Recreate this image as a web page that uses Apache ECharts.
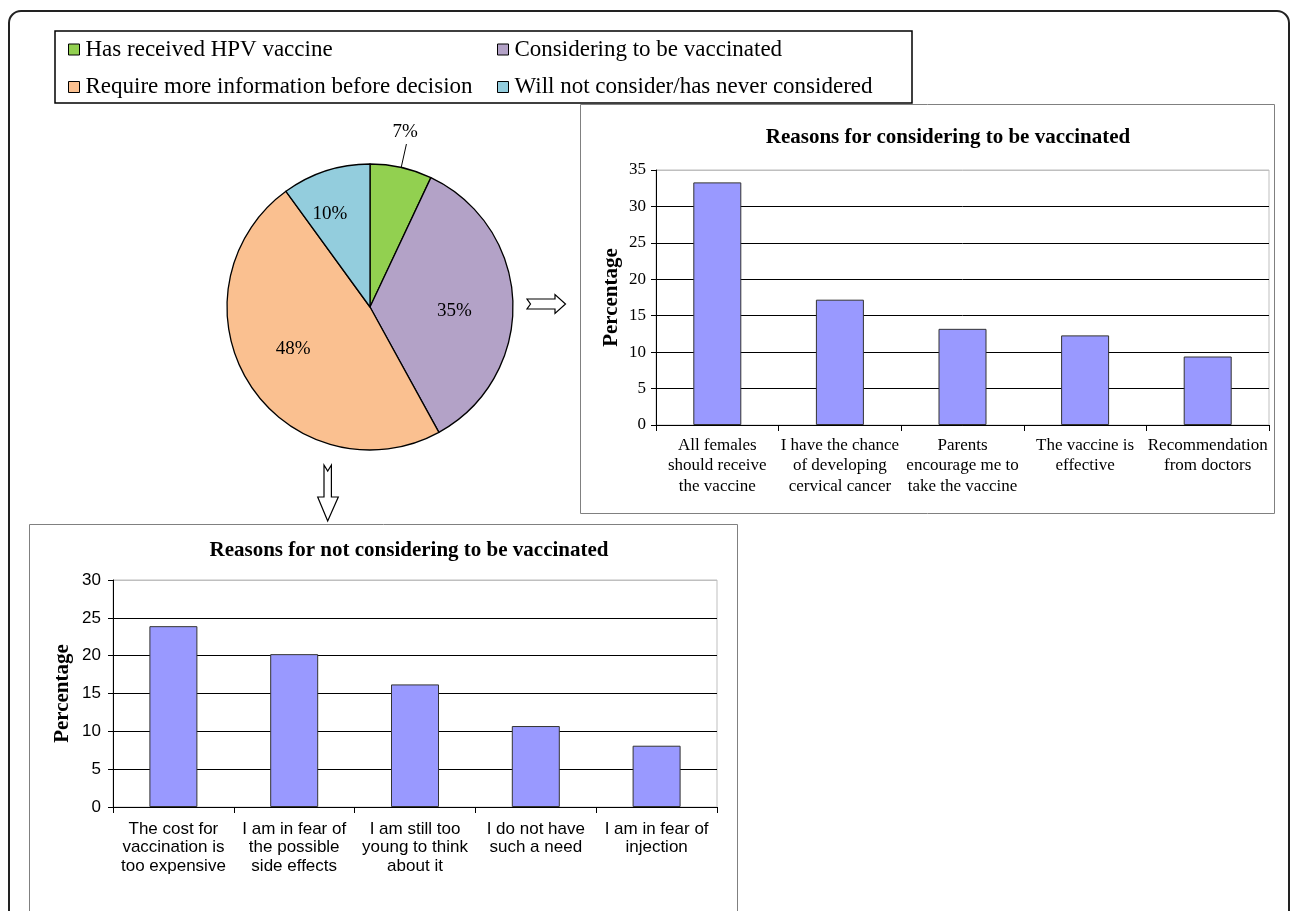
<!DOCTYPE html>
<html>
<head>
<meta charset="utf-8">
<script src="https://cdn.jsdelivr.net/npm/echarts@6/dist/echarts.min.js"></script>
<style>
html,body{margin:0;padding:0;background:#fff;}
#c{width:1290px;height:911px;}
</style>
</head>
<body>
<div id="c"></div>
<script>
// ---- data ----
const pieNames = ['Has received HPV vaccine', 'Considering to be vaccinated', 'Require more information before decision', 'Will not consider/has never considered'];
const pieValues = [7, 35, 48, 10];
const pieLabels = ['7%', '35%', '48%', '10%'];
const pieColors = ['#92d050', '#b3a2c7', '#fac090', '#93cddd'];

const consTitle = 'Reasons for considering to be vaccinated';
const consCats = ['All females\nshould receive\nthe vaccine', 'I have the chance\nof developing\ncervical cancer', 'Parents\nencourage me to\ntake the vaccine', 'The vaccine is\neffective', 'Recommendation\nfrom doctors'];
const consValues = [33.3, 17.2, 13.2, 12.3, 9.4];

const notTitle = 'Reasons for not considering to be vaccinated';
const notCats = ['The cost for\nvaccination is\ntoo expensive', 'I am in fear of\nthe possible\nside effects', 'I am still too\nyoung to think\nabout it', 'I do not have\nsuch a need', 'I am in fear of\ninjection'];
const notValues = [23.9, 20.2, 16.2, 10.7, 8.1];

const yName = 'Percentage';

// ---- styles ----
const SERIF = '"Liberation Serif", "Times New Roman", serif';
const SANS = '"Liberation Sans", Arial, sans-serif';
const barColor = '#9999ff';

const chart = echarts.init(document.getElementById('c'), null, {renderer: 'canvas'});

const pieData = pieNames.map((n, i) => ({name: n, value: pieValues[i], itemStyle: {color: pieColors[i]}}));
// label placement tweaks
pieData[0].label = {position: 'outside', offset: [-19, -12]};
pieData[0].labelLine = {show: true, length: 24, length2: 0, lineStyle: {color: '#000', width: 1}};
pieData[1].label = {offset: [10, 6]};
pieData[2].label = {offset: [-14, 2]};
pieData[3].label = {offset: [-17, -22]};

function splitColors(n) {
  const a = [];
  for (let i = 0; i < n; i++) a.push('#000');
  a[n - 1] = '#bfbfbf';
  return a;
}

function legendCfg(names, left) {
  return {
    data: names, orient: 'vertical', left: left, top: 38, itemGap: 14.5, padding: 0,
    itemWidth: 11, itemHeight: 11, icon: 'rect', selectedMode: false,
    itemStyle: {borderColor: '#000', borderWidth: 1},
    textStyle: {fontFamily: SERIF, fontSize: 23, color: '#000', padding: [0, 0, 0, 1]}
  };
}

const option = {
  animation: false,
  backgroundColor: '#fff',
  legend: [
    legendCfg([pieNames[0], pieNames[2]], 68),
    legendCfg([pieNames[1], pieNames[3]], 497)
  ],
  grid: [
    {left: 656, top: 170, width: 613, height: 255, show: true, borderColor: '#bfbfbf', borderWidth: 1, backgroundColor: 'transparent'},
    {left: 113, top: 580, width: 604, height: 227, show: true, borderColor: '#bfbfbf', borderWidth: 1, backgroundColor: 'transparent'}
  ],
  xAxis: [
    {
      type: 'category', gridIndex: 0, data: consCats,
      axisLine: {lineStyle: {color: '#000', width: 1}},
      axisTick: {show: true, length: 6, lineStyle: {color: '#000'}},
      axisLabel: {interval: 0, margin: 10, color: '#000', fontFamily: SERIF, fontSize: 17, lineHeight: 20.5}
    },
    {
      type: 'category', gridIndex: 1, data: notCats,
      axisLine: {lineStyle: {color: '#000', width: 1}},
      axisTick: {show: true, length: 6, lineStyle: {color: '#000'}},
      axisLabel: {interval: 0, margin: 13, color: '#000', fontFamily: SANS, fontSize: 17, lineHeight: 18.5}
    }
  ],
  yAxis: [
    {
      type: 'value', gridIndex: 0, min: 0, max: 35, interval: 5,
      name: yName, nameLocation: 'middle', nameRotate: 90, nameGap: 34,
      nameTextStyle: {fontFamily: SERIF, fontWeight: 'bold', fontSize: 21, color: '#000'},
      axisLine: {show: true, lineStyle: {color: '#000', width: 1}},
      axisTick: {show: true, length: 5, lineStyle: {color: '#000'}},
      axisLabel: {margin: 10, color: '#000', fontFamily: SERIF, fontSize: 17},
      splitLine: {show: true, lineStyle: {color: splitColors(8), width: 1}}
    },
    {
      type: 'value', gridIndex: 1, min: 0, max: 30, interval: 5,
      name: yName, nameLocation: 'middle', nameRotate: 90, nameGap: 40,
      nameTextStyle: {fontFamily: SERIF, fontWeight: 'bold', fontSize: 21, color: '#000'},
      axisLine: {show: true, lineStyle: {color: '#000', width: 1}},
      axisTick: {show: true, length: 5, lineStyle: {color: '#000'}},
      axisLabel: {margin: 12, color: '#000', fontFamily: SANS, fontSize: 17},
      splitLine: {show: true, lineStyle: {color: splitColors(7), width: 1}}
    }
  ],
  series: [
    {
      type: 'pie', center: [370, 307], radius: 143, startAngle: 90, clockwise: true,
      avoidLabelOverlap: false, data: pieData,
      itemStyle: {borderColor: '#000', borderWidth: 1.3},
      label: {
        show: true, position: 'inside', color: '#000', fontFamily: SERIF, fontSize: 19,
        formatter: p => pieLabels[p.dataIndex]
      },
      labelLine: {show: false},
      emphasis: {disabled: true}
    },
    {
      type: 'bar', xAxisIndex: 0, yAxisIndex: 0, data: consValues, barWidth: 48,
      itemStyle: {color: barColor, borderColor: '#333', borderWidth: 1},
      emphasis: {disabled: true}
    },
    {
      type: 'bar', xAxisIndex: 1, yAxisIndex: 1, data: notValues, barWidth: 48,
      itemStyle: {color: barColor, borderColor: '#333', borderWidth: 1},
      emphasis: {disabled: true}
    }
  ],
  graphic: [
    // outer frame
    {type: 'rect', z: -20, silent: true, shape: {x: 9, y: 11, width: 1280, height: 930, r: 12},
      style: {fill: 'none', stroke: '#222', lineWidth: 2}},
    // right panel
    {type: 'rect', z: -10, silent: true, shape: {x: 580.5, y: 104.5, width: 694, height: 409},
      style: {fill: '#fff', stroke: '#808080', lineWidth: 1}},
    // bottom panel
    {type: 'rect', z: -10, silent: true, shape: {x: 29.5, y: 524.5, width: 708, height: 420},
      style: {fill: '#fff', stroke: '#808080', lineWidth: 1}},
    // legend box
    {type: 'rect', z: -5, silent: true, shape: {x: 55, y: 31, width: 857, height: 72},
      style: {fill: '#fff', stroke: '#000', lineWidth: 1.5}},
    // right arrow (notched tail)
    {type: 'polygon', z: 5, silent: true,
      shape: {points: [[527, 299], [555, 299], [555, 294.5], [565.5, 304], [555, 313.5], [555, 309], [527, 309], [530.5, 304]]},
      style: {fill: '#fff', stroke: '#000', lineWidth: 1.2}},
    // down arrow (notched tail)
    {type: 'polygon', z: 5, silent: true,
      shape: {points: [[324, 465], [327.7, 471], [331.4, 465], [331.4, 497], [338.3, 497], [327.7, 521], [317.7, 497], [324, 497]]},
      style: {fill: '#fff', stroke: '#000', lineWidth: 1.2}},
    // titles
    {type: 'text', z: 5, silent: true, style: {text: consTitle, x: 948, y: 138, textAlign: 'center', textVerticalAlign: 'middle',
      font: 'bold 21px ' + SERIF, fill: '#000'}},
    {type: 'text', z: 5, silent: true, style: {text: notTitle, x: 409, y: 551, textAlign: 'center', textVerticalAlign: 'middle',
      font: 'bold 21px ' + SERIF, fill: '#000'}}
  ]
};

chart.setOption(option);
</script>
</body>
</html>
